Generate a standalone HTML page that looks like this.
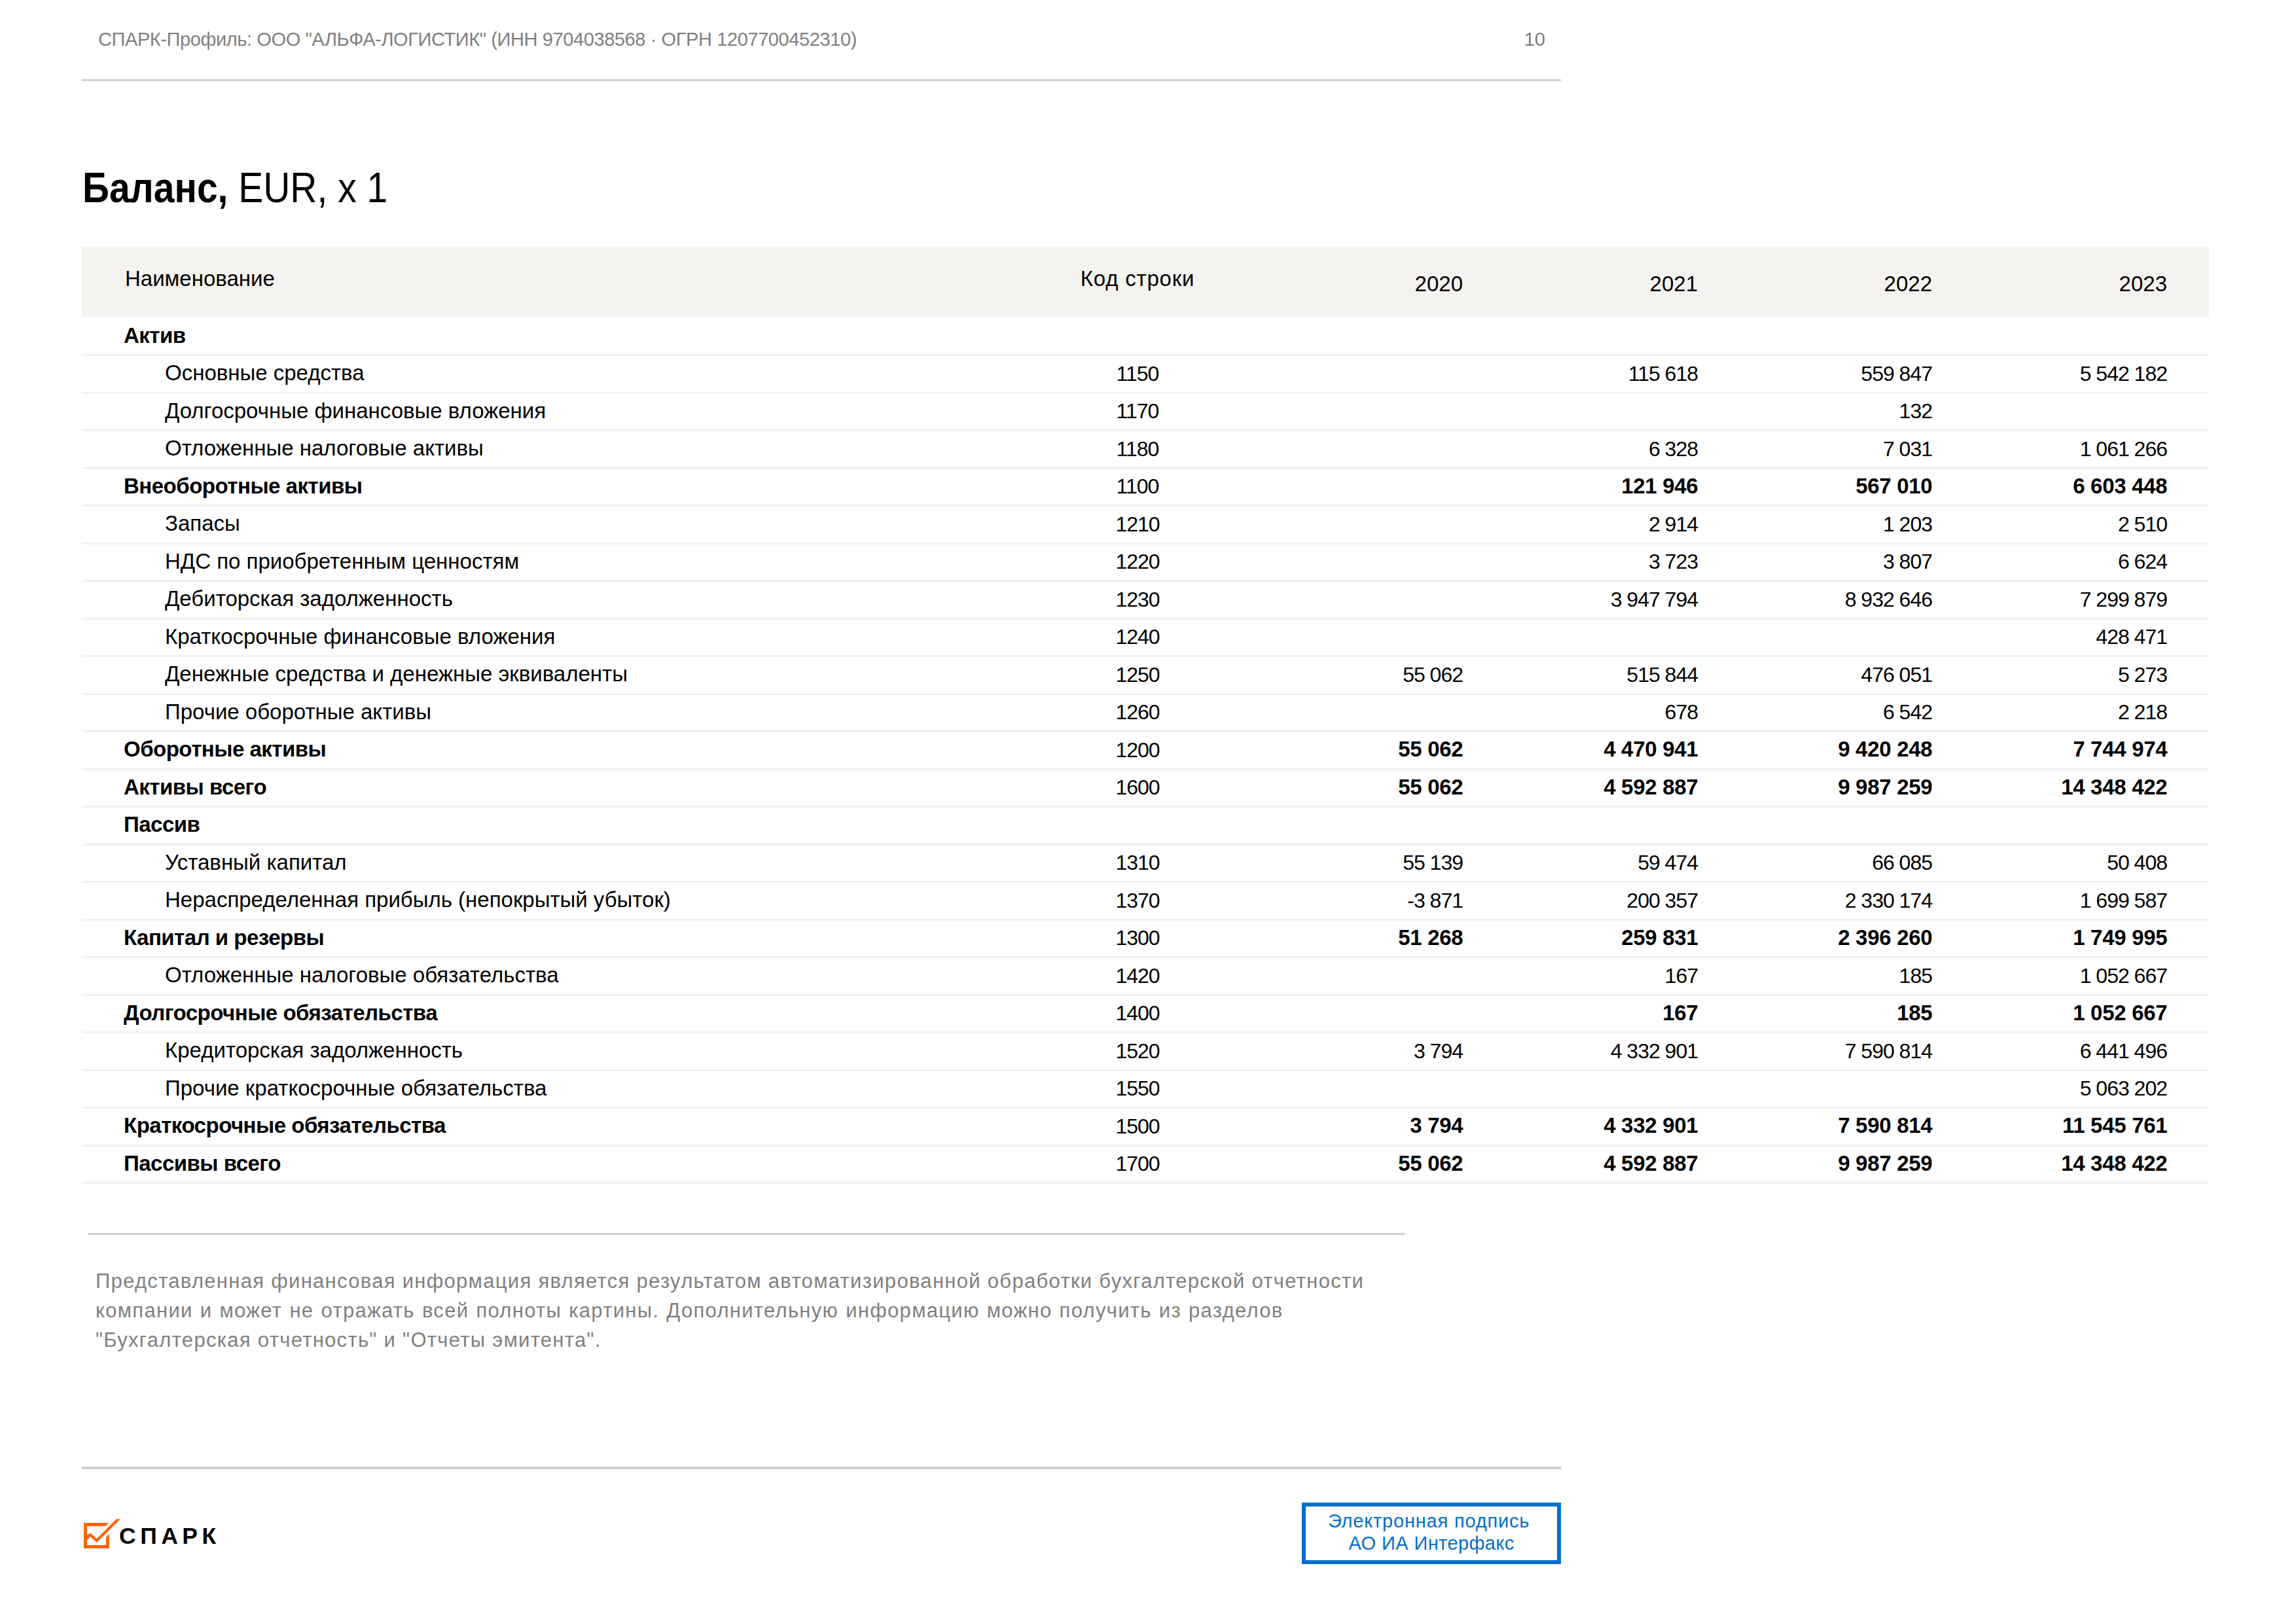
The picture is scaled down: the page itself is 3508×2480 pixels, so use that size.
<!DOCTYPE html>
<html><head><meta charset="utf-8"><style>
html,body{margin:0;padding:0;background:#fff;}
body{width:3508px;height:2480px;position:relative;overflow:hidden;font-family:"Liberation Sans",sans-serif;color:#000;}
.t{position:absolute;white-space:nowrap;}
.b{font-weight:bold;}
.g{color:#808080;}
.hr{position:absolute;}
</style></head><body>
<div class="t g" style="left:150px;top:42.50px;font-size:29px;line-height:35px;letter-spacing:-0.4px;">СПАРК-Профиль: ООО "АЛЬФА-ЛОГИСТИК" (ИНН 9704038568 · ОГРН 1207700452310)</div>
<div class="t g" style="right:1147px;text-align:right;top:42.50px;font-size:29px;line-height:35px;">10</div>
<div class="hr" style="left:125px;top:121px;width:2260px;height:3px;background:#d1d0cb"></div>
<div class="t " style="left:126px;top:248.50px;font-size:64px;line-height:77px;transform:scaleX(0.89);transform-origin:0 0;"><b>Баланс,</b> EUR, x 1</div>
<div class="hr" style="left:125px;top:377px;width:3250px;height:107px;background:#f4f3f0"></div>
<div class="t " style="left:191px;top:405.50px;font-size:33px;line-height:40px;">Наименование</div>
<div class="t " style="left:1138px;width:1200px;text-align:center;top:405.50px;font-size:33px;line-height:40px;letter-spacing:0.8px;">Код строки</div>
<div class="t " style="right:1273px;text-align:right;top:413.50px;font-size:33px;line-height:40px;">2020</div>
<div class="t " style="right:914px;text-align:right;top:413.50px;font-size:33px;line-height:40px;">2021</div>
<div class="t " style="right:556px;text-align:right;top:413.50px;font-size:33px;line-height:40px;">2022</div>
<div class="t " style="right:197px;text-align:right;top:413.50px;font-size:33px;line-height:40px;">2023</div>
<div class="hr" style="left:125px;top:541px;width:3250px;height:3px;background:#f2f1ed"></div>
<div class="t b" style="left:189px;top:492.50px;font-size:33px;line-height:40px;letter-spacing:-0.5px;">Актив</div>
<div class="hr" style="left:125px;top:599px;width:3250px;height:3px;background:#f2f1ed"></div>
<div class="t " style="left:252px;top:550.00px;font-size:33px;line-height:40px;">Основные средства</div>
<div class="t " style="left:1138px;width:1200px;text-align:center;top:551.50px;font-size:32px;line-height:38px;letter-spacing:-1px;">1150</div>
<div class="t " style="right:914px;text-align:right;top:551.50px;font-size:32px;line-height:38px;letter-spacing:-1px;">115 618</div>
<div class="t " style="right:556px;text-align:right;top:551.50px;font-size:32px;line-height:38px;letter-spacing:-1px;">559 847</div>
<div class="t " style="right:197px;text-align:right;top:551.50px;font-size:32px;line-height:38px;letter-spacing:-1px;">5 542 182</div>
<div class="hr" style="left:125px;top:656px;width:3250px;height:3px;background:#f2f1ed"></div>
<div class="t " style="left:252px;top:607.50px;font-size:33px;line-height:40px;">Долгосрочные финансовые вложения</div>
<div class="t " style="left:1138px;width:1200px;text-align:center;top:609.00px;font-size:32px;line-height:38px;letter-spacing:-1px;">1170</div>
<div class="t " style="right:556px;text-align:right;top:609.00px;font-size:32px;line-height:38px;letter-spacing:-1px;">132</div>
<div class="hr" style="left:125px;top:714px;width:3250px;height:3px;background:#f2f1ed"></div>
<div class="t " style="left:252px;top:665.00px;font-size:33px;line-height:40px;">Отложенные налоговые активы</div>
<div class="t " style="left:1138px;width:1200px;text-align:center;top:666.50px;font-size:32px;line-height:38px;letter-spacing:-1px;">1180</div>
<div class="t " style="right:914px;text-align:right;top:666.50px;font-size:32px;line-height:38px;letter-spacing:-1px;">6 328</div>
<div class="t " style="right:556px;text-align:right;top:666.50px;font-size:32px;line-height:38px;letter-spacing:-1px;">7 031</div>
<div class="t " style="right:197px;text-align:right;top:666.50px;font-size:32px;line-height:38px;letter-spacing:-1px;">1 061 266</div>
<div class="hr" style="left:125px;top:771px;width:3250px;height:3px;background:#f2f1ed"></div>
<div class="t b" style="left:189px;top:722.50px;font-size:33px;line-height:40px;letter-spacing:-0.5px;">Внеоборотные активы</div>
<div class="t " style="left:1138px;width:1200px;text-align:center;top:724.00px;font-size:32px;line-height:38px;letter-spacing:-1px;">1100</div>
<div class="t b" style="right:913.6999999999998px;text-align:right;top:722.50px;font-size:33px;line-height:40px;letter-spacing:-0.3px;">121 946</div>
<div class="t b" style="right:555.6999999999998px;text-align:right;top:722.50px;font-size:33px;line-height:40px;letter-spacing:-0.3px;">567 010</div>
<div class="t b" style="right:196.69999999999982px;text-align:right;top:722.50px;font-size:33px;line-height:40px;letter-spacing:-0.3px;">6 603 448</div>
<div class="hr" style="left:125px;top:829px;width:3250px;height:3px;background:#f2f1ed"></div>
<div class="t " style="left:252px;top:780.00px;font-size:33px;line-height:40px;">Запасы</div>
<div class="t " style="left:1138px;width:1200px;text-align:center;top:781.50px;font-size:32px;line-height:38px;letter-spacing:-1px;">1210</div>
<div class="t " style="right:914px;text-align:right;top:781.50px;font-size:32px;line-height:38px;letter-spacing:-1px;">2 914</div>
<div class="t " style="right:556px;text-align:right;top:781.50px;font-size:32px;line-height:38px;letter-spacing:-1px;">1 203</div>
<div class="t " style="right:197px;text-align:right;top:781.50px;font-size:32px;line-height:38px;letter-spacing:-1px;">2 510</div>
<div class="hr" style="left:125px;top:886px;width:3250px;height:3px;background:#f2f1ed"></div>
<div class="t " style="left:252px;top:837.50px;font-size:33px;line-height:40px;">НДС по приобретенным ценностям</div>
<div class="t " style="left:1138px;width:1200px;text-align:center;top:839.00px;font-size:32px;line-height:38px;letter-spacing:-1px;">1220</div>
<div class="t " style="right:914px;text-align:right;top:839.00px;font-size:32px;line-height:38px;letter-spacing:-1px;">3 723</div>
<div class="t " style="right:556px;text-align:right;top:839.00px;font-size:32px;line-height:38px;letter-spacing:-1px;">3 807</div>
<div class="t " style="right:197px;text-align:right;top:839.00px;font-size:32px;line-height:38px;letter-spacing:-1px;">6 624</div>
<div class="hr" style="left:125px;top:944px;width:3250px;height:3px;background:#f2f1ed"></div>
<div class="t " style="left:252px;top:895.00px;font-size:33px;line-height:40px;">Дебиторская задолженность</div>
<div class="t " style="left:1138px;width:1200px;text-align:center;top:896.50px;font-size:32px;line-height:38px;letter-spacing:-1px;">1230</div>
<div class="t " style="right:914px;text-align:right;top:896.50px;font-size:32px;line-height:38px;letter-spacing:-1px;">3 947 794</div>
<div class="t " style="right:556px;text-align:right;top:896.50px;font-size:32px;line-height:38px;letter-spacing:-1px;">8 932 646</div>
<div class="t " style="right:197px;text-align:right;top:896.50px;font-size:32px;line-height:38px;letter-spacing:-1px;">7 299 879</div>
<div class="hr" style="left:125px;top:1001px;width:3250px;height:3px;background:#f2f1ed"></div>
<div class="t " style="left:252px;top:952.50px;font-size:33px;line-height:40px;">Краткосрочные финансовые вложения</div>
<div class="t " style="left:1138px;width:1200px;text-align:center;top:954.00px;font-size:32px;line-height:38px;letter-spacing:-1px;">1240</div>
<div class="t " style="right:197px;text-align:right;top:954.00px;font-size:32px;line-height:38px;letter-spacing:-1px;">428 471</div>
<div class="hr" style="left:125px;top:1059px;width:3250px;height:3px;background:#f2f1ed"></div>
<div class="t " style="left:252px;top:1010.00px;font-size:33px;line-height:40px;">Денежные средства и денежные эквиваленты</div>
<div class="t " style="left:1138px;width:1200px;text-align:center;top:1011.50px;font-size:32px;line-height:38px;letter-spacing:-1px;">1250</div>
<div class="t " style="right:1273px;text-align:right;top:1011.50px;font-size:32px;line-height:38px;letter-spacing:-1px;">55 062</div>
<div class="t " style="right:914px;text-align:right;top:1011.50px;font-size:32px;line-height:38px;letter-spacing:-1px;">515 844</div>
<div class="t " style="right:556px;text-align:right;top:1011.50px;font-size:32px;line-height:38px;letter-spacing:-1px;">476 051</div>
<div class="t " style="right:197px;text-align:right;top:1011.50px;font-size:32px;line-height:38px;letter-spacing:-1px;">5 273</div>
<div class="hr" style="left:125px;top:1116px;width:3250px;height:3px;background:#f2f1ed"></div>
<div class="t " style="left:252px;top:1067.50px;font-size:33px;line-height:40px;">Прочие оборотные активы</div>
<div class="t " style="left:1138px;width:1200px;text-align:center;top:1069.00px;font-size:32px;line-height:38px;letter-spacing:-1px;">1260</div>
<div class="t " style="right:914px;text-align:right;top:1069.00px;font-size:32px;line-height:38px;letter-spacing:-1px;">678</div>
<div class="t " style="right:556px;text-align:right;top:1069.00px;font-size:32px;line-height:38px;letter-spacing:-1px;">6 542</div>
<div class="t " style="right:197px;text-align:right;top:1069.00px;font-size:32px;line-height:38px;letter-spacing:-1px;">2 218</div>
<div class="hr" style="left:125px;top:1174px;width:3250px;height:3px;background:#f2f1ed"></div>
<div class="t b" style="left:189px;top:1125.00px;font-size:33px;line-height:40px;letter-spacing:-0.5px;">Оборотные активы</div>
<div class="t " style="left:1138px;width:1200px;text-align:center;top:1126.50px;font-size:32px;line-height:38px;letter-spacing:-1px;">1200</div>
<div class="t b" style="right:1272.6999999999998px;text-align:right;top:1125.00px;font-size:33px;line-height:40px;letter-spacing:-0.3px;">55 062</div>
<div class="t b" style="right:913.6999999999998px;text-align:right;top:1125.00px;font-size:33px;line-height:40px;letter-spacing:-0.3px;">4 470 941</div>
<div class="t b" style="right:555.6999999999998px;text-align:right;top:1125.00px;font-size:33px;line-height:40px;letter-spacing:-0.3px;">9 420 248</div>
<div class="t b" style="right:196.69999999999982px;text-align:right;top:1125.00px;font-size:33px;line-height:40px;letter-spacing:-0.3px;">7 744 974</div>
<div class="hr" style="left:125px;top:1231px;width:3250px;height:3px;background:#f2f1ed"></div>
<div class="t b" style="left:189px;top:1182.50px;font-size:33px;line-height:40px;letter-spacing:-0.5px;">Активы всего</div>
<div class="t " style="left:1138px;width:1200px;text-align:center;top:1184.00px;font-size:32px;line-height:38px;letter-spacing:-1px;">1600</div>
<div class="t b" style="right:1272.6999999999998px;text-align:right;top:1182.50px;font-size:33px;line-height:40px;letter-spacing:-0.3px;">55 062</div>
<div class="t b" style="right:913.6999999999998px;text-align:right;top:1182.50px;font-size:33px;line-height:40px;letter-spacing:-0.3px;">4 592 887</div>
<div class="t b" style="right:555.6999999999998px;text-align:right;top:1182.50px;font-size:33px;line-height:40px;letter-spacing:-0.3px;">9 987 259</div>
<div class="t b" style="right:196.69999999999982px;text-align:right;top:1182.50px;font-size:33px;line-height:40px;letter-spacing:-0.3px;">14 348 422</div>
<div class="hr" style="left:125px;top:1289px;width:3250px;height:3px;background:#f2f1ed"></div>
<div class="t b" style="left:189px;top:1240.00px;font-size:33px;line-height:40px;letter-spacing:-0.5px;">Пассив</div>
<div class="hr" style="left:125px;top:1346px;width:3250px;height:3px;background:#f2f1ed"></div>
<div class="t " style="left:252px;top:1297.50px;font-size:33px;line-height:40px;">Уставный капитал</div>
<div class="t " style="left:1138px;width:1200px;text-align:center;top:1299.00px;font-size:32px;line-height:38px;letter-spacing:-1px;">1310</div>
<div class="t " style="right:1273px;text-align:right;top:1299.00px;font-size:32px;line-height:38px;letter-spacing:-1px;">55 139</div>
<div class="t " style="right:914px;text-align:right;top:1299.00px;font-size:32px;line-height:38px;letter-spacing:-1px;">59 474</div>
<div class="t " style="right:556px;text-align:right;top:1299.00px;font-size:32px;line-height:38px;letter-spacing:-1px;">66 085</div>
<div class="t " style="right:197px;text-align:right;top:1299.00px;font-size:32px;line-height:38px;letter-spacing:-1px;">50 408</div>
<div class="hr" style="left:125px;top:1404px;width:3250px;height:3px;background:#f2f1ed"></div>
<div class="t " style="left:252px;top:1355.00px;font-size:33px;line-height:40px;">Нераспределенная прибыль (непокрытый убыток)</div>
<div class="t " style="left:1138px;width:1200px;text-align:center;top:1356.50px;font-size:32px;line-height:38px;letter-spacing:-1px;">1370</div>
<div class="t " style="right:1273px;text-align:right;top:1356.50px;font-size:32px;line-height:38px;letter-spacing:-1px;">-3 871</div>
<div class="t " style="right:914px;text-align:right;top:1356.50px;font-size:32px;line-height:38px;letter-spacing:-1px;">200 357</div>
<div class="t " style="right:556px;text-align:right;top:1356.50px;font-size:32px;line-height:38px;letter-spacing:-1px;">2 330 174</div>
<div class="t " style="right:197px;text-align:right;top:1356.50px;font-size:32px;line-height:38px;letter-spacing:-1px;">1 699 587</div>
<div class="hr" style="left:125px;top:1461px;width:3250px;height:3px;background:#f2f1ed"></div>
<div class="t b" style="left:189px;top:1412.50px;font-size:33px;line-height:40px;letter-spacing:-0.5px;">Капитал и резервы</div>
<div class="t " style="left:1138px;width:1200px;text-align:center;top:1414.00px;font-size:32px;line-height:38px;letter-spacing:-1px;">1300</div>
<div class="t b" style="right:1272.6999999999998px;text-align:right;top:1412.50px;font-size:33px;line-height:40px;letter-spacing:-0.3px;">51 268</div>
<div class="t b" style="right:913.6999999999998px;text-align:right;top:1412.50px;font-size:33px;line-height:40px;letter-spacing:-0.3px;">259 831</div>
<div class="t b" style="right:555.6999999999998px;text-align:right;top:1412.50px;font-size:33px;line-height:40px;letter-spacing:-0.3px;">2 396 260</div>
<div class="t b" style="right:196.69999999999982px;text-align:right;top:1412.50px;font-size:33px;line-height:40px;letter-spacing:-0.3px;">1 749 995</div>
<div class="hr" style="left:125px;top:1519px;width:3250px;height:3px;background:#f2f1ed"></div>
<div class="t " style="left:252px;top:1470.00px;font-size:33px;line-height:40px;">Отложенные налоговые обязательства</div>
<div class="t " style="left:1138px;width:1200px;text-align:center;top:1471.50px;font-size:32px;line-height:38px;letter-spacing:-1px;">1420</div>
<div class="t " style="right:914px;text-align:right;top:1471.50px;font-size:32px;line-height:38px;letter-spacing:-1px;">167</div>
<div class="t " style="right:556px;text-align:right;top:1471.50px;font-size:32px;line-height:38px;letter-spacing:-1px;">185</div>
<div class="t " style="right:197px;text-align:right;top:1471.50px;font-size:32px;line-height:38px;letter-spacing:-1px;">1 052 667</div>
<div class="hr" style="left:125px;top:1576px;width:3250px;height:3px;background:#f2f1ed"></div>
<div class="t b" style="left:189px;top:1527.50px;font-size:33px;line-height:40px;letter-spacing:-0.5px;">Долгосрочные обязательства</div>
<div class="t " style="left:1138px;width:1200px;text-align:center;top:1529.00px;font-size:32px;line-height:38px;letter-spacing:-1px;">1400</div>
<div class="t b" style="right:913.6999999999998px;text-align:right;top:1527.50px;font-size:33px;line-height:40px;letter-spacing:-0.3px;">167</div>
<div class="t b" style="right:555.6999999999998px;text-align:right;top:1527.50px;font-size:33px;line-height:40px;letter-spacing:-0.3px;">185</div>
<div class="t b" style="right:196.69999999999982px;text-align:right;top:1527.50px;font-size:33px;line-height:40px;letter-spacing:-0.3px;">1 052 667</div>
<div class="hr" style="left:125px;top:1634px;width:3250px;height:3px;background:#f2f1ed"></div>
<div class="t " style="left:252px;top:1585.00px;font-size:33px;line-height:40px;">Кредиторская задолженность</div>
<div class="t " style="left:1138px;width:1200px;text-align:center;top:1586.50px;font-size:32px;line-height:38px;letter-spacing:-1px;">1520</div>
<div class="t " style="right:1273px;text-align:right;top:1586.50px;font-size:32px;line-height:38px;letter-spacing:-1px;">3 794</div>
<div class="t " style="right:914px;text-align:right;top:1586.50px;font-size:32px;line-height:38px;letter-spacing:-1px;">4 332 901</div>
<div class="t " style="right:556px;text-align:right;top:1586.50px;font-size:32px;line-height:38px;letter-spacing:-1px;">7 590 814</div>
<div class="t " style="right:197px;text-align:right;top:1586.50px;font-size:32px;line-height:38px;letter-spacing:-1px;">6 441 496</div>
<div class="hr" style="left:125px;top:1691px;width:3250px;height:3px;background:#f2f1ed"></div>
<div class="t " style="left:252px;top:1642.50px;font-size:33px;line-height:40px;">Прочие краткосрочные обязательства</div>
<div class="t " style="left:1138px;width:1200px;text-align:center;top:1644.00px;font-size:32px;line-height:38px;letter-spacing:-1px;">1550</div>
<div class="t " style="right:197px;text-align:right;top:1644.00px;font-size:32px;line-height:38px;letter-spacing:-1px;">5 063 202</div>
<div class="hr" style="left:125px;top:1749px;width:3250px;height:3px;background:#f2f1ed"></div>
<div class="t b" style="left:189px;top:1700.00px;font-size:33px;line-height:40px;letter-spacing:-0.5px;">Краткосрочные обязательства</div>
<div class="t " style="left:1138px;width:1200px;text-align:center;top:1701.50px;font-size:32px;line-height:38px;letter-spacing:-1px;">1500</div>
<div class="t b" style="right:1272.6999999999998px;text-align:right;top:1700.00px;font-size:33px;line-height:40px;letter-spacing:-0.3px;">3 794</div>
<div class="t b" style="right:913.6999999999998px;text-align:right;top:1700.00px;font-size:33px;line-height:40px;letter-spacing:-0.3px;">4 332 901</div>
<div class="t b" style="right:555.6999999999998px;text-align:right;top:1700.00px;font-size:33px;line-height:40px;letter-spacing:-0.3px;">7 590 814</div>
<div class="t b" style="right:196.69999999999982px;text-align:right;top:1700.00px;font-size:33px;line-height:40px;letter-spacing:-0.3px;">11 545 761</div>
<div class="hr" style="left:125px;top:1806px;width:3250px;height:3px;background:#f2f1ed"></div>
<div class="t b" style="left:189px;top:1757.50px;font-size:33px;line-height:40px;letter-spacing:-0.5px;">Пассивы всего</div>
<div class="t " style="left:1138px;width:1200px;text-align:center;top:1759.00px;font-size:32px;line-height:38px;letter-spacing:-1px;">1700</div>
<div class="t b" style="right:1272.6999999999998px;text-align:right;top:1757.50px;font-size:33px;line-height:40px;letter-spacing:-0.3px;">55 062</div>
<div class="t b" style="right:913.6999999999998px;text-align:right;top:1757.50px;font-size:33px;line-height:40px;letter-spacing:-0.3px;">4 592 887</div>
<div class="t b" style="right:555.6999999999998px;text-align:right;top:1757.50px;font-size:33px;line-height:40px;letter-spacing:-0.3px;">9 987 259</div>
<div class="t b" style="right:196.69999999999982px;text-align:right;top:1757.50px;font-size:33px;line-height:40px;letter-spacing:-0.3px;">14 348 422</div>
<div class="hr" style="left:134px;top:1884px;width:2012px;height:3px;background:#d1d0cb"></div>
<div class="t g" style="left:146px;top:1939.00px;font-size:31px;line-height:37px;letter-spacing:1.3px;">Представленная финансовая информация является результатом автоматизированной обработки бухгалтерской отчетности</div>
<div class="t g" style="left:146px;top:1984.00px;font-size:31px;line-height:37px;letter-spacing:1.3px;word-spacing:1.2px;">компании и может не отражать всей полноты картины. Дополнительную информацию можно получить из разделов</div>
<div class="t g" style="left:146px;top:2029.00px;font-size:31px;line-height:37px;letter-spacing:1.3px;">"Бухгалтерская отчетность" и "Отчеты эмитента".</div>
<div class="hr" style="left:125px;top:2241px;width:2260px;height:4px;background:#d1d0cb"></div>
<svg style="position:absolute;left:0;top:0" width="400" height="2480" viewBox="0 0 400 2480">
<path fill="#ff6000" d="M128.1 2327.1 H166 L161.4 2332.1 H132.9 V2361.1 H162.1 V2348.7 L166.9 2344.1 V2366 H128.1 Z"/>
<path fill="#ff6000" d="M132.9 2345.4 L138.2 2342.8 L147.7 2351.3 L177.7 2321.3 L183.9 2321.3 L147.7 2357 L138.2 2348.1 L132.9 2353.9 Z"/>
</svg>
<div class="t b" style="left:182px;top:2325.50px;font-size:35.5px;line-height:43px;letter-spacing:6.5px;">СПАРК</div>
<div class="hr" style="left:1989px;top:2296px;width:384px;height:82px;border:6px solid #006fcb"></div>
<div class="t " style="left:1583px;width:1200px;text-align:center;top:2306.50px;font-size:29px;line-height:35px;color:#006fcb;letter-spacing:0.8px;">Электронная подпись</div>
<div class="t " style="left:1587px;width:1200px;text-align:center;top:2340.50px;font-size:29px;line-height:35px;color:#006fcb;letter-spacing:0.4px;">АО ИА Интерфакс</div>
</body></html>
